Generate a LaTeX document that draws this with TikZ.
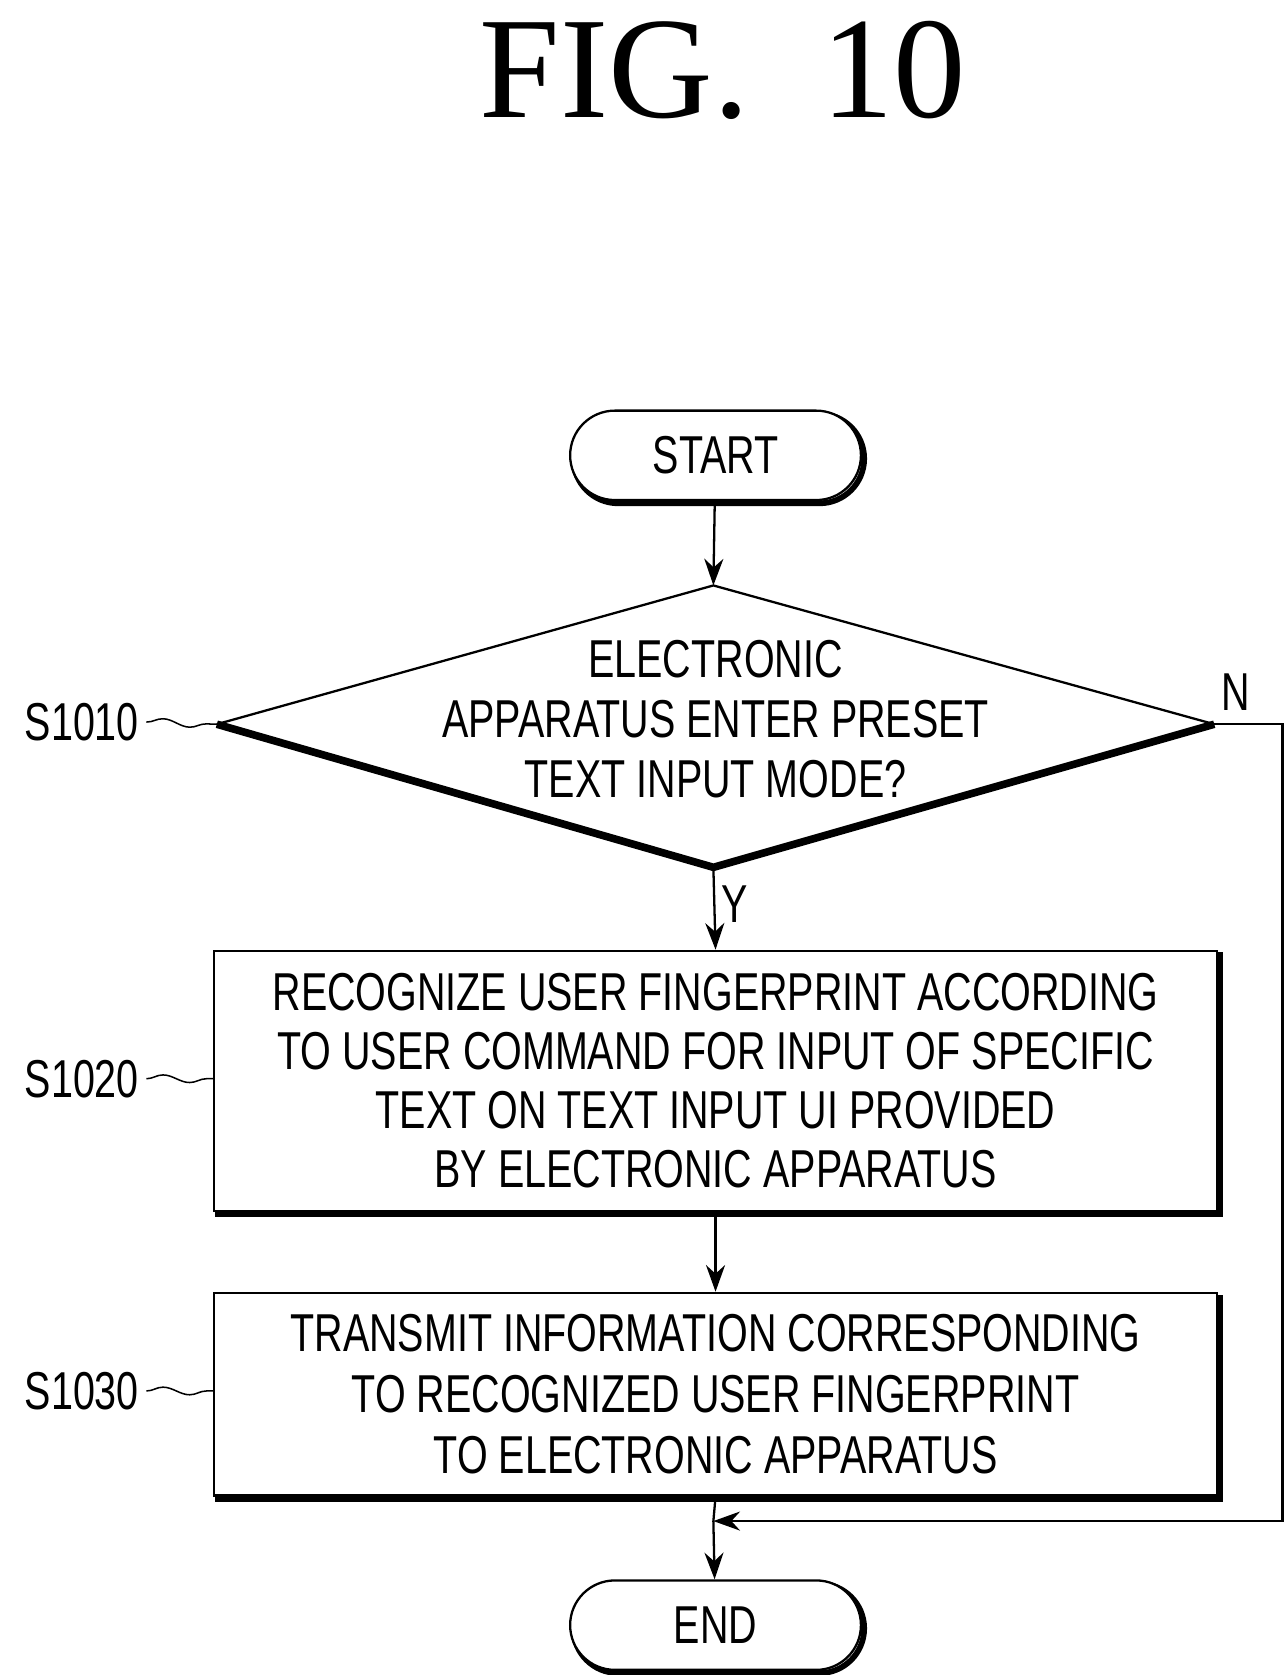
\documentclass[tikz,border=0pt]{standalone}
\usepackage{fontspec}
\setmainfont{Liberation Sans}[FakeStretch=0.74]
\newfontfamily\figfont{Liberation Serif}
\usetikzlibrary{positioning,shapes.geometric,shapes.misc,arrows.meta,decorations.pathmorphing}
\begin{document}
\begin{tikzpicture}[x=0.02cm,y=-0.02cm,
    line width=1.2pt,
    >={Stealth[length=14pt,width=10pt]},
    term/.style={draw, rounded rectangle, minimum width=5.6cm, minimum height=1.65cm, fill=white, font=\fontsize{28}{32}\selectfont},
    termshadow/.style={draw, line width=3pt, rounded rectangle, minimum width=5.6cm, minimum height=1.65cm},
    proc/.style={draw, fill=white, minimum width=18.5cm, align=center, font=\fontsize{28}{31}\selectfont},
    steplabel/.style={font=\fontsize{28}{32}\selectfont, anchor=east}]
  \useasboundingbox (0,0) rectangle (1185,1545);

  % title
  \node[font=\figfont\fontsize{76}{80}\selectfont] (title) at (667,65) {FIG.\ \ 10};

  % terminals
  \node[termshadow] (startsh) at (663,423) {};
  \node[term] (start) at (660,420) {START};
  \node[termshadow] (endsh) at (663,1502) {};
  \node[term] (end) at (660,1499) {END};

  % decision
  \coordinate (dtop) at (658,540);
  \coordinate (dleft) at (200,668);
  \coordinate (dright) at (1120,668);
  \coordinate (dbot) at (658,800);
  \draw (dleft) -- (dtop) -- (dright);
  \draw[line width=4pt] (dleft) -- (dbot) -- (dright);
  \node[align=center, font=\fontsize{28}{31.5}\selectfont] (decision) at (660,663)
    {ELECTRONIC\\APPARATUS ENTER PRESET\\TEXT INPUT MODE?};

  % process boxes
  \draw[line width=3pt] (201,881) rectangle (1125,1120);
  \draw[line width=3pt] (201,1197) rectangle (1125,1383);
  \node[proc, minimum height=4.8cm] (recog) at (660,997)
    {RECOGNIZE USER FINGERPRINT ACCORDING\\TO USER COMMAND FOR INPUT OF SPECIFIC\\TEXT ON TEXT INPUT UI PROVIDED\\BY ELECTRONIC APPARATUS};
  \node[proc, minimum height=3.74cm, font=\fontsize{28}{32}\selectfont] (trans) at (660,1286)
    {TRANSMIT INFORMATION CORRESPONDING\\TO RECOGNIZED USER FINGERPRINT\\TO ELECTRONIC APPARATUS};

  % connectors
  \coordinate (join) at (658,1403);
  \coordinate (ncorner) at (1183,668);
  \draw[->] (start) -- (dtop);
  \draw[->] (dbot) -- (recog.north) node[pos=0.45, right, font=\fontsize{28}{32}\selectfont] {Y};
  \draw[->] (recog) -- (trans);
  \draw (trans.south) -- (join);
  \draw[->] (join) -- (end);
  \draw[->] (dright) -- (ncorner) |- (join);
  \node[font=\fontsize{28}{32}\selectfont] (nlabel) at (1140,638) {N};

  % step labels
  \node[steplabel] (s1) at (135,666) {S1010};
  \node[steplabel] (s2) at (135,995) {S1020};
  \node[steplabel] (s3) at (135,1283) {S1030};
  \draw[line width=0.8pt, decorate, decoration={snake, amplitude=2pt, segment length=28pt}] (s1.east) -- (dleft);
  \draw[line width=0.8pt, decorate, decoration={snake, amplitude=2pt, segment length=28pt}] (s2.east) -- (recog.west |- s2.east);
  \draw[line width=0.8pt, decorate, decoration={snake, amplitude=2pt, segment length=28pt}] (s3.east) -- (trans.west |- s3.east);
\end{tikzpicture}
\end{document}
